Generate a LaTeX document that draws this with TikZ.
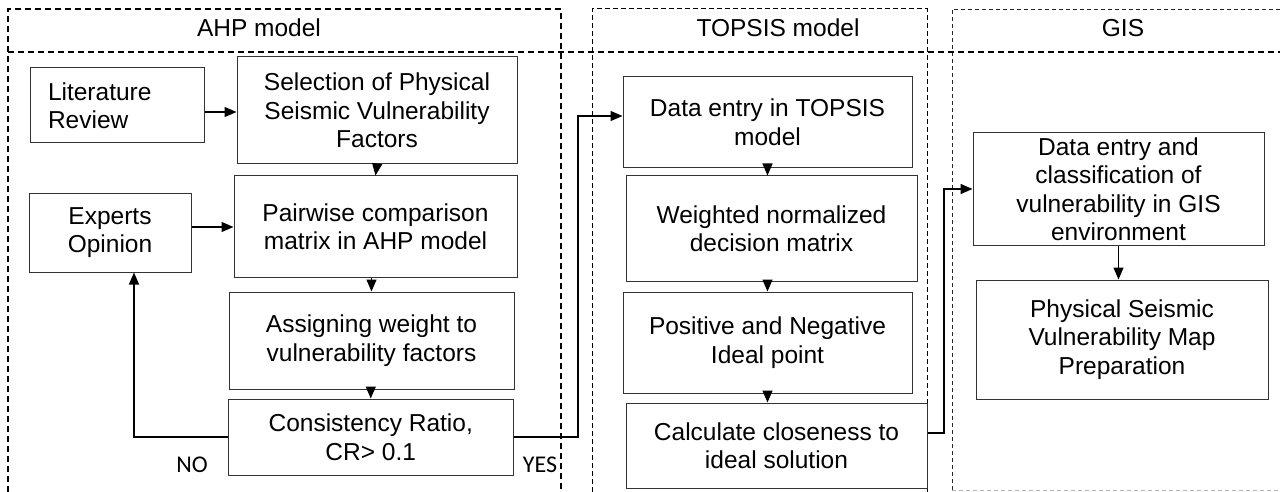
\documentclass[tikz,border=0pt]{standalone}
\usepackage{fontspec}
\setmainfont{Liberation Sans}
\newfontfamily\calibrifont{Carlito}
\usetikzlibrary{arrows.meta}

\begin{document}
\begin{tikzpicture}[x=1pt,y=-1pt,
  font=\fontsize{24.5}{28.5}\selectfont,
  box/.style={draw=black!80, line width=1pt, inner sep=0pt, align=center},
  arr/.style={line width=1.3pt, -{Triangle[length=12pt,width=10pt]}},
  panelcoarse/.style={dash pattern=on 6pt off 4pt, line width=1.3pt},
  panelfine/.style={dash pattern=on 5pt off 3pt, line width=1pt},
  panelthin/.style={dash pattern=on 4pt off 3pt, line width=0.9pt, draw=black!85},
  headerline/.style={dash pattern=on 6pt off 4pt, line width=1.4pt},
  answer/.style={font=\calibrifont\fontsize{24}{28}\selectfont, anchor=base}
]
% canvas
\fill[white] (0,0) rectangle (1280,492);
\useasboundingbox (0,0) rectangle (1280,492);

% lane frames
\draw[panelcoarse] (8,492) -- (8,9) -- (561,9) -- (561,492);
\draw[panelfine] (592,492) -- (592,9) -- (927,9) -- (927,492);
\draw[panelthin] (952,490) -- (952,9) -- (1280,9);
\draw[dash pattern=on 4pt off 3pt, line width=0.9pt, draw=black!30] (952,490) -- (1280,490);
\draw[headerline] (8,52) -- (1280,52);

% lane titles
\node[anchor=base] (tAHP) at (259,37) {AHP model};
\node[anchor=base] (tTOP) at (778,37) {TOPSIS model};
\node[anchor=base] (tGIS) at (1123,37) {GIS};

% AHP steps
\node[box, text width=138pt, inner xsep=18pt, align=left, minimum height=75pt] (lit) at (117,105.5) {Literature\\Review};
\node[box, minimum width=280pt, minimum height=107pt] (sel) at (377,110.5) {Selection of Physical\\Seismic Vulnerability\\Factors};
\node[box, minimum width=162pt, minimum height=79pt] (exp) at (110,232.5) {Experts\\Opinion};
\node[box, minimum width=283pt, minimum height=101pt] (pair) at (375.5,226.5) {Pairwise comparison\\matrix in AHP model};
\node[box, minimum width=285pt, minimum height=97pt] (asg) at (371.5,340.5) {Assigning weight to\\vulnerability factors};
\node[box, minimum width=284.5pt, minimum height=76pt] (cr) at (370.75,437) {Consistency Ratio,\\CR> 0.1};

% TOPSIS steps
\node[box, minimum width=289pt, minimum height=91pt] (data) at (767.5,122) {Data entry in TOPSIS\\model};
\node[box, minimum width=291pt, minimum height=105pt] (wnd) at (771.5,228.5) {Weighted normalized\\decision matrix};
\node[box, minimum width=289pt, minimum height=101pt] (pos) at (767.5,342.5) {Positive and Negative\\Ideal point};
\node[box, minimum width=301pt, minimum height=85pt] (calc) at (776.5,445.5) {Calculate closeness to\\ideal solution};

% GIS steps
\node[box, minimum width=291pt, minimum height=112pt] (gis1) at (1118.5,189) {Data entry and\\classification of\\vulnerability in GIS\\environment};
\node[box, minimum width=292pt, minimum height=119pt] (gis2) at (1122,339.5) {Physical Seismic\\Vulnerability Map\\Preparation};

% decision labels
\node[answer] (no) at (192,472) {NO};
\node[answer] (yes) at (540,472) {YES};

% routing points
\coordinate (yLit) at (0,112);
\coordinate (yExp) at (0,227);
\coordinate (xNo) at (134,0);
\coordinate (xYes) at (578,0);
\coordinate (yData) at (0,116);
\coordinate (yCalc) at (0,433);
\coordinate (xGis) at (944,0);

% connectors
\draw[arr] (lit.east |- yLit) -- (sel.west |- yLit);
\draw[arr] (sel.south) -- (pair.north);
\draw[arr] (exp.east |- yExp) -- (pair.west |- yExp);
\draw[arr] (asg.north |- pair.south) -- (asg.north);
\draw[arr] (cr.north |- asg.south) -- (cr.north);
\draw[arr] (cr.west) -| (xNo |- exp.south);
\draw[arr] (cr.east) -| (xYes |- yData) -- (data.west |- yData);
\draw[arr] (data.south) -- (data.south |- wnd.north);
\draw[arr] (pos.north |- wnd.south) -- (pos.north);
\draw[arr] (pos.south) -- (pos.south |- calc.north);
\draw[arr] (calc.east |- yCalc) -| (xGis |- gis1.west) -- (gis1.west);
\draw[arr] (gis1.south) -- (gis1.south |- gis2.north);
\end{tikzpicture}
\end{document}
